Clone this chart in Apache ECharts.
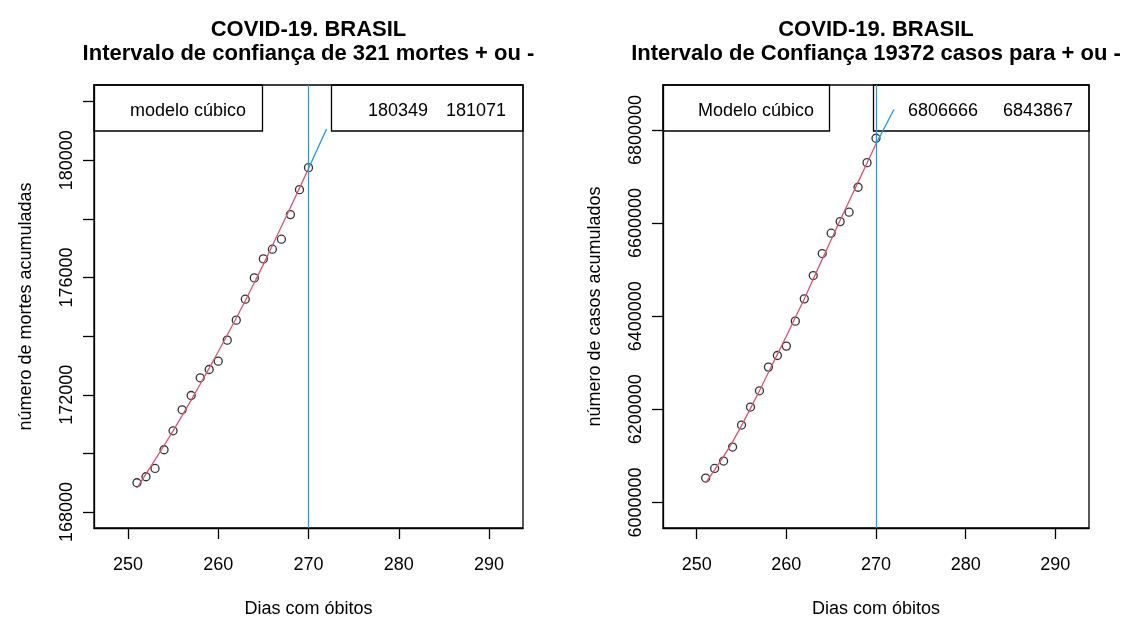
<!DOCTYPE html>
<html><head><meta charset="utf-8">
<script src="https://cdn.jsdelivr.net/npm/echarts@6/dist/echarts.min.js"></script>
<style>html,body{margin:0;padding:0;background:#fff}#c{width:1135px;height:619px}</style>
</head><body><div id="c"></div>
<script>
// ---------- data ----------
const days = [251,252,253,254,255,256,257,258,259,260,261,262,263,264,265,266,267,268,269,270];
const predDays = [270,271,272];
const cutDay = 270;

const deaths = [168999,169204,169487,170124,170772,171488,171975,172579,172862,173148,173864,174546,175262,175988,176636,176967,177308,178147,178999,179749];
const deathsFit = [168820,169300,169780,170270,170770,171290,171820,172360,172910,173470,174040,174620,175210,175820,176450,177090,177740,178390,179050,179720];
const deathsPred = [179720,180395,181071];
const deathsCI = ['180349','181071'];

const cases = [6052375,6072981,6088865,6118916,6166139,6204776,6239764,6290636,6315535,6335713,6389375,6437242,6487255,6534478,6578267,6603166,6623343,6677006,6729809,6782184];
const casesFit = [6042000,6070000,6099000,6130000,6165000,6202000,6240000,6279000,6318000,6357000,6397000,6437000,6480000,6522000,6564000,6606000,6647000,6688000,6729000,6770000];
const casesPred = [6770000,6807000,6843867];
const casesCI = ['6806666','6843867'];

const xTicks = [250,260,270,280,290];
const deathTicks = [168000,170000,172000,174000,176000,178000,180000,182000];
const deathLabels = [168000,172000,176000,180000];
const caseTicks = [6000000,6200000,6400000,6600000,6800000];
const caseLabels = [6000000,6200000,6400000,6600000,6800000];

const titleMain = 'COVID-19. BRASIL';
const titleLeft = 'Intervalo de confiança de 321 mortes + ou -';
const titleRight = 'Intervalo de Confiança 19372 casos para + ou -';
const xName = 'Dias com óbitos';
const yNameLeft = 'número de mortes acumuladas';
const yNameRight = 'número de casos acumulados';
const legLeft = 'modelo cúbico';
const legRight = 'Modelo cúbico';

// ---------- layout ----------
const FONT = '"Liberation Sans", Arial, Helvetica, sans-serif';
const RED = '#DF536B', BLUE = '#2297E6';
const G1 = {left: 94, top: 85, width: 429, height: 443};
const G2 = {left: 663, top: 85, width: 426, height: 443};
const LEG_H = 46;
const LW = 1.3;

function xAxis(gi) {
  return {
    type: 'value', gridIndex: gi, min: 246.24, max: 293.76,
    axisLine: {show: true, onZero: false, lineStyle: {color: '#000', width: LW}},
    splitLine: {show: false},
    axisTick: {show: true, customValues: xTicks, length: 11, lineStyle: {color: '#000', width: LW}},
    axisLabel: {customValues: xTicks, fontSize: 18, fontFamily: FONT, color: '#000', margin: 28, formatter: v => String(v)},
    name: xName, nameLocation: 'middle', nameGap: 72,
    nameTextStyle: {fontSize: 18, fontFamily: FONT, color: '#000'}
  };
}
function yAxis(gi, min, max, ticks, labels, name) {
  return {
    type: 'value', gridIndex: gi, min: min, max: max,
    axisLine: {show: true, onZero: false, lineStyle: {color: '#000', width: LW}},
    splitLine: {show: false},
    axisTick: {show: true, customValues: ticks, length: 11, lineStyle: {color: '#000', width: LW}},
    axisLabel: {customValues: labels, rotate: 90, fontSize: 18, fontFamily: FONT, color: '#000', margin: 18, formatter: v => String(v)},
    name: name, nameLocation: 'middle', nameGap: 59,
    nameTextStyle: {fontSize: 18, fontFamily: FONT, color: '#000'}
  };
}
function pts(xs, ys) { return xs.map((d, i) => [d, ys[i]]); }
function scatter(gi, ys) {
  return {
    type: 'scatter', xAxisIndex: gi, yAxisIndex: gi, data: pts(days, ys),
    symbol: 'circle', symbolSize: 8, z: 3,
    itemStyle: {color: 'rgba(0,0,0,0)', borderColor: '#000', borderWidth: LW},
    markLine: {symbol: 'none', silent: true, label: {show: false},
      lineStyle: {color: BLUE, width: 1.2, type: 'solid'}, data: [{xAxis: cutDay}]}
  };
}
function line(gi, xs, ys, color) {
  return {type: 'line', xAxisIndex: gi, yAxisIndex: gi, data: pts(xs, ys), showSymbol: false,
    symbol: 'none', z: 4, lineStyle: {color: color, width: 1.3}};
}
function txt(x, y, text, opts) {
  return {type: 'text', silent: true, style: Object.assign({
    x: x, y: y, text: text, fill: '#000', fontSize: 18, fontFamily: FONT,
    textAlign: 'left', textVerticalAlign: 'middle'}, opts || {})};
}
function box(x, y, w, h) {
  return {type: 'rect', silent: true, shape: {x: x, y: y, width: w, height: h},
    style: {fill: 'none', stroke: '#000', lineWidth: LW}};
}

const c1 = G1.left + G1.width / 2, c2 = G2.left + G2.width / 2;
const legY = G1.top + 26;
const graphics = [
  txt(c1, 30, titleMain, {textAlign: 'center', fontSize: 22, fontWeight: 'bold'}),
  txt(c1, 54, titleLeft, {textAlign: 'center', fontSize: 22, fontWeight: 'bold'}),
  txt(c2, 30, titleMain, {textAlign: 'center', fontSize: 22, fontWeight: 'bold'}),
  txt(c2, 54, titleRight, {textAlign: 'center', fontSize: 22, fontWeight: 'bold'}),
  box(G1.left, G1.top, 168.5, LEG_H),
  txt(130, legY, legLeft),
  box(331.5, G1.top, G1.left + G1.width - 331.5, LEG_H),
  txt(368, legY, deathsCI[0]),
  txt(446, legY, deathsCI[1]),
  box(G2.left, G2.top, 166.5, LEG_H),
  txt(698, legY, legRight),
  box(873.5, G2.top, G2.left + G2.width - 873.5, LEG_H),
  txt(908, legY, casesCI[0]),
  txt(1003, legY, casesCI[1])
];

const gridBase = {show: true, borderColor: '#000', borderWidth: LW, backgroundColor: 'transparent',
  containLabel: false, outerBoundsMode: 'none'};

const chart = echarts.init(document.getElementById('c'), null, {renderer: 'canvas'});
chart.setOption({
  animation: false,
  backgroundColor: '#fff',
  textStyle: {fontFamily: FONT},
  grid: [Object.assign({}, gridBase, G1), Object.assign({}, gridBase, G2)],
  xAxis: [xAxis(0), xAxis(1)],
  yAxis: [
    yAxis(0, 167455, 182569, deathTicks, deathLabels, yNameLeft),
    yAxis(1, 5945050, 6896593, caseTicks, caseLabels, yNameRight)
  ],
  series: [
    scatter(0, deaths),
    line(0, days, deathsFit, RED),
    line(0, predDays, deathsPred, BLUE),
    scatter(1, cases),
    line(1, days, casesFit, RED),
    line(1, predDays, casesPred, BLUE)
  ],
  graphic: graphics
});
</script>
</body></html>
